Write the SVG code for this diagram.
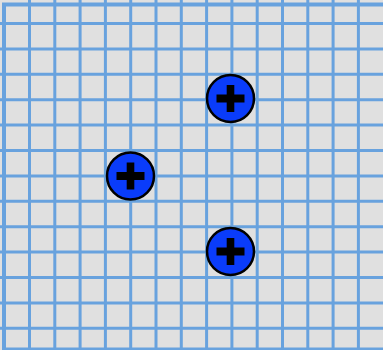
<svg xmlns="http://www.w3.org/2000/svg" xmlns:xlink="http://www.w3.org/1999/xlink" width="383" height="350" viewBox="0 0 383 350">
  <style>
    .bg { fill: #e0e0e0; }
    .grid line { stroke: #68a2de; stroke-width: 3; }
    .border { fill: none; stroke: #68a2de; stroke-width: 4; }
    .disc { fill: #0a3cfa; stroke: #000; stroke-width: 2.5; }
    .plus { fill: #000; }
  </style>
  <defs>
    <g id="screw">
      <circle class="disc" cx="0" cy="0" r="23.5"/>
      <rect class="plus" x="-3.8" y="-13.5" width="7.6" height="27"/>
      <rect class="plus" x="-14" y="-4" width="28" height="8"/>
    </g>
  </defs>
  <rect class="bg" x="0" y="0" width="383" height="350"/>
  <g class="grid" id="grid">
    <line x1="29.5" y1="0" x2="29.5" y2="350"/>
    <line x1="54.8" y1="0" x2="54.8" y2="350"/>
    <line x1="80.1" y1="0" x2="80.1" y2="350"/>
    <line x1="105.4" y1="0" x2="105.4" y2="350"/>
    <line x1="130.7" y1="0" x2="130.7" y2="350"/>
    <line x1="156" y1="0" x2="156" y2="350"/>
    <line x1="181.3" y1="0" x2="181.3" y2="350"/>
    <line x1="206.6" y1="0" x2="206.6" y2="350"/>
    <line x1="231.9" y1="0" x2="231.9" y2="350"/>
    <line x1="257.2" y1="0" x2="257.2" y2="350"/>
    <line x1="282.5" y1="0" x2="282.5" y2="350"/>
    <line x1="307.8" y1="0" x2="307.8" y2="350"/>
    <line x1="333.1" y1="0" x2="333.1" y2="350"/>
    <line x1="358.4" y1="0" x2="358.4" y2="350"/>
    <line x1="0" y1="23.5" x2="383" y2="23.5"/>
    <line x1="0" y1="48.9" x2="383" y2="48.9"/>
    <line x1="0" y1="74.3" x2="383" y2="74.3"/>
    <line x1="0" y1="99.7" x2="383" y2="99.7"/>
    <line x1="0" y1="125.1" x2="383" y2="125.1"/>
    <line x1="0" y1="150.5" x2="383" y2="150.5"/>
    <line x1="0" y1="175.9" x2="383" y2="175.9"/>
    <line x1="0" y1="201.3" x2="383" y2="201.3"/>
    <line x1="0" y1="226.7" x2="383" y2="226.7"/>
    <line x1="0" y1="252.1" x2="383" y2="252.1"/>
    <line x1="0" y1="277.5" x2="383" y2="277.5"/>
    <line x1="0" y1="302.9" x2="383" y2="302.9"/>
    <line x1="0" y1="328.3" x2="383" y2="328.3"/>
  </g>
  <rect class="border" x="4" y="4.5" width="384" height="345"/>
  <g id="connectors"/>
  <g id="screw1"><use xlink:href="#screw" x="230.5" y="98.5"/></g>
  <g id="screw2"><use xlink:href="#screw" x="130.5" y="176"/></g>
  <g id="screw3"><use xlink:href="#screw" x="230.5" y="251.5"/></g>
</svg>
